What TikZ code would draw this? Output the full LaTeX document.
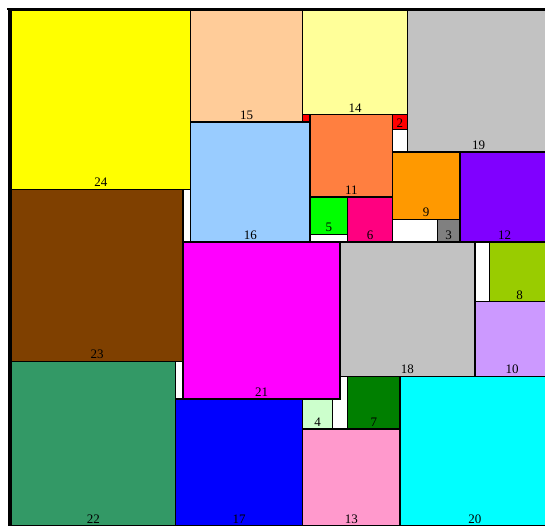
\documentclass[tikz,border=0pt]{standalone}
\usepackage{fontspec}
\setmainfont{Liberation Serif}
\definecolor{c1}{HTML}{FF0000}
\definecolor{c2}{HTML}{FF0000}
\definecolor{c3}{HTML}{808080}
\definecolor{c4}{HTML}{CCFFCC}
\definecolor{c5}{HTML}{00FF00}
\definecolor{c6}{HTML}{FF0080}
\definecolor{c7}{HTML}{007F00}
\definecolor{c8}{HTML}{99CC00}
\definecolor{c9}{HTML}{FF9900}
\definecolor{c10}{HTML}{CC99FF}
\definecolor{c11}{HTML}{FF7F40}
\definecolor{c12}{HTML}{8000FF}
\definecolor{c13}{HTML}{FF99CC}
\definecolor{c14}{HTML}{FFFF99}
\definecolor{c15}{HTML}{FFCC99}
\definecolor{c16}{HTML}{99CCFF}
\definecolor{c17}{HTML}{0000FF}
\definecolor{c18}{HTML}{C2C2C2}
\definecolor{c19}{HTML}{C2C2C2}
\definecolor{c20}{HTML}{00FFFF}
\definecolor{c21}{HTML}{FF00FF}
\definecolor{c22}{HTML}{339966}
\definecolor{c23}{HTML}{7F4000}
\definecolor{c24}{HTML}{FFFF00}
\tikzset{
  sqbox/.style={draw=black, line width=1.5pt},
  lab/.style={anchor=base, yshift=2.6pt, inner sep=0pt, font=\fontsize{13}{15}\selectfont, text=black},
  frame/.style={draw=black, line cap=rect}
}
\newcommand\sqpiece[5]{%
  \filldraw[sqbox, fill=c#3] (#1,#2) rectangle ++(#3,#3);
  \node[lab] (n#3) at ({#1+#3/2},{#2+#3}) {#4};
}
\begin{document}
\begin{tikzpicture}[x={(7.48pt,0pt)}, y={(0pt,-7.48pt)}]
\useasboundingbox[fill=white] (-1.4706,-1.3369) rectangle (71.390,68.850);
\clip (-1.4706,-1.3369) rectangle (71.390,68.850);
\sqpiece{0}{0}{24}{24}{}
\sqpiece{24}{0}{15}{15}{}
\sqpiece{39}{0}{14}{14}{}
\sqpiece{53}{0}{19}{19}{}
\sqpiece{39}{14}{1}{}{}
\sqpiece{51}{14}{2}{2}{}
\sqpiece{24}{15}{16}{16}{}
\sqpiece{40}{14}{11}{11}{}
\sqpiece{40}{25}{5}{5}{}
\sqpiece{45}{25}{6}{6}{}
\sqpiece{51}{19}{9}{9}{}
\sqpiece{57}{28}{3}{3}{}
\sqpiece{60}{19}{12}{12}{}
\sqpiece{0}{24}{23}{23}{}
\sqpiece{23}{31}{21}{21}{}
\sqpiece{44}{31}{18}{18}{}
\sqpiece{64}{31}{8}{8}{}
\sqpiece{62}{39}{10}{10}{}
\sqpiece{0}{47}{22}{22}{}
\sqpiece{22}{52}{17}{17}{}
\sqpiece{39}{52}{4}{4}{}
\sqpiece{45}{49}{7}{7}{}
\sqpiece{39}{56}{13}{13}{}
\sqpiece{52}{49}{20}{20}{}
% outer frame (left and top)
\draw[frame, line width=2.6pt] (-0.227,70) -- (-0.227,-0.16);
\draw[frame, line width=1.8pt] (-0.35,-0.16) -- (73,-0.16);
\end{tikzpicture}
\end{document}
